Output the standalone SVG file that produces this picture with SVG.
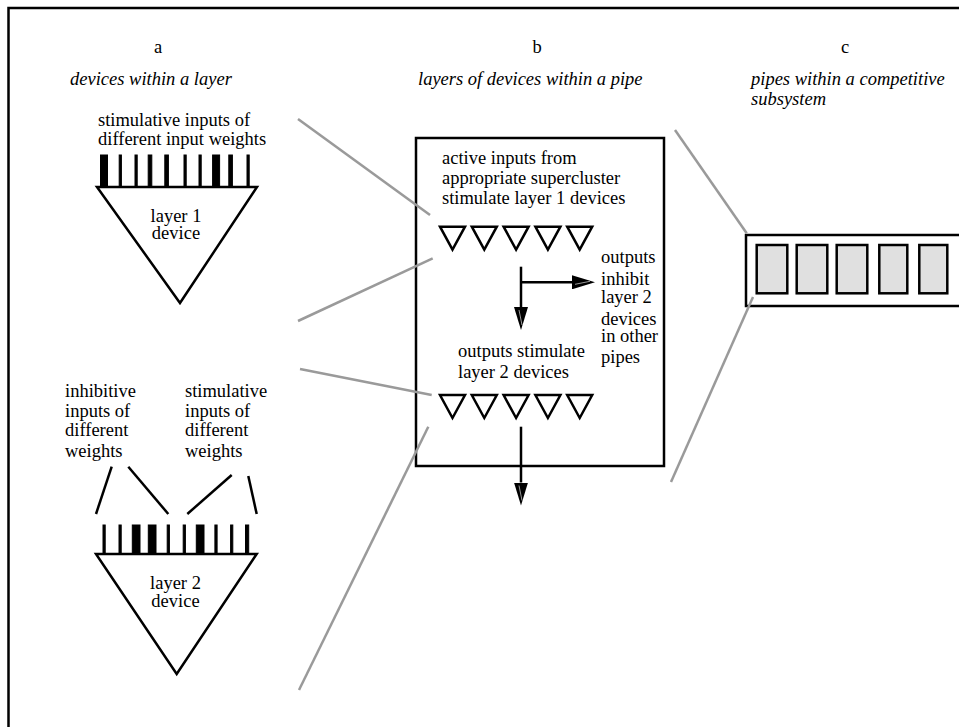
<svg xmlns="http://www.w3.org/2000/svg" width="959" height="727" viewBox="0 0 959 727">
  <style>
    text { font-family: "Liberation Serif", "Times New Roman", serif; font-size: 18.5px; fill: #000; }
    .it { font-style: italic; }
    .mid { text-anchor: middle; }
    .edge { fill: none; stroke: #000; stroke-width: 2.5; }
    .dev { fill: #fff; stroke: #000; stroke-width: 2.5; stroke-linejoin: miter; }
    .bar { stroke: #000; }
    .zoom { fill: none; stroke: #9a9a9a; stroke-width: 2.5; }
    .shaft { fill: none; stroke: #000; stroke-width: 2.5; }
    .cell { fill: #e0e0e0; stroke: #000; stroke-width: 2.5; }
  </style>
  <defs>
    <marker id="head" markerUnits="userSpaceOnUse" markerWidth="24" markerHeight="14" refX="0" refY="7" orient="auto" viewBox="0 0 24 14">
      <path d="M0,0 L23,7 L0,14 Z" fill="#000"/>
      <path d="M3,9 L18,6" stroke="#fff" stroke-width="0.6"/>
    </marker>
    <polygon id="small" class="dev" points="0,0 25,0 12.5,23"/>
  </defs>

  <!-- outer frame (only top and left edges fall inside the canvas) -->
  <path class="edge" d="M8.5,727 V8 H959" stroke-width="3"/>

  <!-- panel headings -->
  <g id="headings">
    <text class="mid" x="158" y="53">a</text>
    <text class="mid" x="537" y="53">b</text>
    <text class="mid" x="845" y="53">c</text>
    <text class="it" x="70" y="85">devices within a layer</text>
    <text class="it" x="418" y="85">layers of devices within a pipe</text>
    <text class="it" x="751" y="85">pipes within a competitive</text>
    <text class="it" x="751" y="105">subsystem</text>
  </g>

  <!-- a: layer 1 device -->
  <g id="layer1-device">
    <text x="98" y="126">stimulative inputs of</text>
    <text x="98" y="145">different input weights</text>
    <g class="bar">
      <rect x="100.5" y="155" width="7" height="32"/>
      <rect x="119.2" y="155" width="2.2" height="32"/>
      <rect x="135" y="155" width="2.2" height="32"/>
      <rect x="148.2" y="155" width="3.6" height="32"/>
      <rect x="164.8" y="155" width="3.6" height="32"/>
      <rect x="184" y="155" width="2.2" height="32"/>
      <rect x="199" y="155" width="2.2" height="32"/>
      <rect x="212.6" y="155" width="7" height="32"/>
      <rect x="228.8" y="155" width="3.6" height="32"/>
      <rect x="247" y="155" width="2.2" height="32"/>
    </g>
    <polygon class="dev" points="97,187 257,187 180,303"/>
    <text class="mid" x="176" y="222">layer 1</text>
    <text class="mid" x="176" y="239">device</text>
  </g>

  <!-- a: layer 2 device -->
  <g id="layer2-device">
    <text x="65" y="397">inhibitive</text>
    <text x="65" y="417">inputs of</text>
    <text x="65" y="436">different</text>
    <text x="65" y="457">weights</text>
    <text x="185" y="397">stimulative</text>
    <text x="185" y="417">inputs of</text>
    <text x="185" y="436">different</text>
    <text x="185" y="457">weights</text>
    <g class="edge">
      <line x1="111.7" y1="466.7" x2="96" y2="514"/>
      <line x1="128.3" y1="466.7" x2="168.3" y2="514"/>
      <line x1="231.7" y1="475" x2="187.3" y2="514"/>
      <line x1="248.3" y1="476" x2="256.7" y2="514"/>
    </g>
    <g class="bar">
      <rect x="103" y="525" width="2.2" height="29"/>
      <rect x="119" y="525" width="2.2" height="29"/>
      <rect x="132.3" y="525" width="7.7" height="29"/>
      <rect x="148.3" y="525" width="7.7" height="29"/>
      <rect x="167.2" y="525" width="2.2" height="29"/>
      <rect x="183.2" y="525" width="2.2" height="29"/>
      <rect x="196.3" y="525" width="7.7" height="29"/>
      <rect x="214.9" y="525" width="2.2" height="29"/>
      <rect x="230.6" y="525" width="2.2" height="29"/>
      <rect x="245.5" y="525" width="3.2" height="29"/>
    </g>
    <polygon class="dev" points="96,554 256.7,554 176.7,674"/>
    <text class="mid" x="175.5" y="589">layer 2</text>
    <text class="mid" x="175.5" y="607">device</text>
  </g>

  <!-- b: one pipe with its two layers -->
  <g id="pipe">
    <rect class="edge" x="416" y="138" width="248" height="328"/>
    <text x="442" y="164">active inputs from</text>
    <text x="442" y="184">appropriate supercluster</text>
    <text x="442" y="204">stimulate layer 1 devices</text>
    <g id="layer1-row">
      <use href="#small" x="440" y="226.7"/>
      <use href="#small" x="471.8" y="226.7"/>
      <use href="#small" x="503.6" y="226.7"/>
      <use href="#small" x="535.4" y="226.7"/>
      <use href="#small" x="567.2" y="226.7"/>
    </g>
    <text x="458" y="357">outputs stimulate</text>
    <text x="458" y="378">layer 2 devices</text>
    <g id="layer2-row">
      <use href="#small" x="440" y="395"/>
      <use href="#small" x="471.8" y="395"/>
      <use href="#small" x="503.6" y="395"/>
      <use href="#small" x="535.4" y="395"/>
      <use href="#small" x="567.2" y="395"/>
    </g>
  </g>

  <g id="inhibit-note">
    <text x="601" y="263">outputs</text>
    <text x="601" y="285">inhibit</text>
    <text x="601" y="303">layer 2</text>
    <text x="601" y="325">devices</text>
    <text x="601" y="342">in other</text>
    <text x="601" y="363">pipes</text>
  </g>

  <!-- c: pipes side by side in a subsystem -->
  <g id="subsystem">
    <rect class="edge" x="746" y="235" width="260" height="71"/>
    <rect class="cell" x="756.7" y="245" width="30.6" height="48.3"/>
    <rect class="cell" x="796.7" y="245" width="30.6" height="48.3"/>
    <rect class="cell" x="836.7" y="245" width="30.6" height="48.3"/>
    <rect class="cell" x="879.3" y="245" width="28" height="48.3"/>
    <rect class="cell" x="919.3" y="245" width="28" height="48.3"/>
  </g>

  <g id="connectors">
    <!-- magnification guides -->
    <line class="zoom" x1="298" y1="119" x2="430" y2="215"/>
    <line class="zoom" x1="298" y1="321" x2="432.7" y2="258.3"/>
    <line class="zoom" x1="300" y1="369" x2="431.7" y2="395"/>
    <line class="zoom" x1="299" y1="690" x2="428.3" y2="426.7"/>
    <line class="zoom" x1="675" y1="130" x2="746.7" y2="233.3"/>
    <line class="zoom" x1="753" y1="297" x2="671" y2="482"/>
    <!-- signal flow -->
    <line class="shaft" x1="521" y1="266.7" x2="521" y2="307" marker-end="url(#head)"/>
    <line class="shaft" x1="522" y1="282.3" x2="572" y2="282.3" marker-end="url(#head)"/>
    <line class="shaft" x1="521" y1="426.7" x2="521" y2="482.5" marker-end="url(#head)"/>
  </g>
</svg>
